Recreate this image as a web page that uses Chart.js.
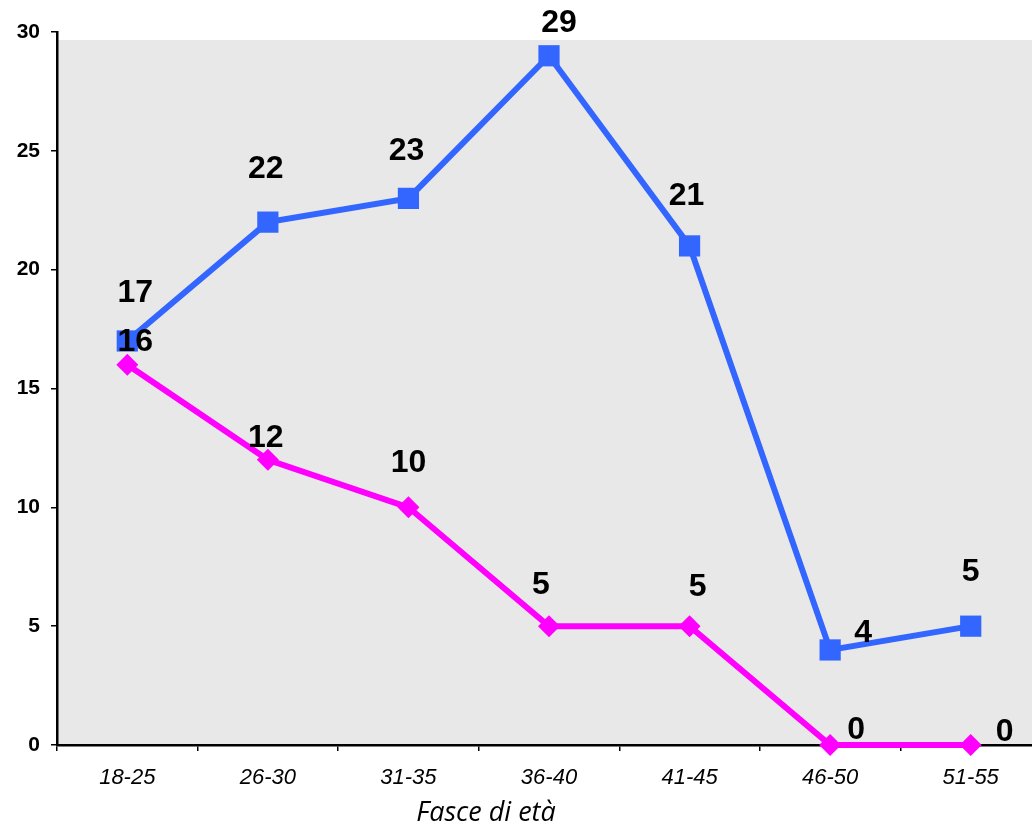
<!DOCTYPE html>
<html>
<head>
<meta charset="utf-8">
<script src="https://cdn.jsdelivr.net/npm/chart.js@4/dist/chart.umd.min.js"></script>
<style>
  html, body { margin: 0; padding: 0; background: #fff; overflow: hidden; }
  #wrap { width: 1056px; height: 833px; }
</style>
</head>
<body>
<div id="wrap"><canvas id="ageChart" width="1056" height="833"></canvas></div>
<script>
// categories and series
const ageGroups = ['18-25', '26-30', '31-35', '36-40', '41-45', '46-50', '51-55'];
const seriesBlue = [17, 22, 23, 29, 21, 4, 5];
const seriesPink = [16, 12, 10, 5, 5, 0, 0];
const yTicks = [0, 5, 10, 15, 20, 25, 30];
const axisTitle = 'Fasce di età';

// label nudges (dx, dy) so numbers sit where the original put them
const blueLabelShift = [[8, -48], [-2, -53], [-2, -47], [10, -33], [-3, -50], [33, -17], [0, -54]];
const pinkLabelShift = [[8, -23], [-2, -22], [0, -44], [-8, -41], [8, -39], [26, -15], [34, -13]];

const plotBackground = {
    id: 'plotBackground',
    beforeDraw(chart) {
        const { ctx, chartArea: a } = chart;
        ctx.save();
        ctx.fillStyle = '#e8e8e8';
        ctx.fillRect(a.left, a.top + 8, a.right - a.left, a.bottom - a.top - 8);
        ctx.restore();
    }
};

const valueLabels = {
    id: 'valueLabels',
    afterDatasetsDraw(chart) {
        const ctx = chart.ctx;
        ctx.save();
        ctx.font = 'bold 32px "Liberation Sans", Arial, sans-serif';
        ctx.fillStyle = '#000';
        ctx.textAlign = 'center';
        ctx.textBaseline = 'middle';
        chart.data.datasets.forEach((ds, i) => {
            const meta = chart.getDatasetMeta(i);
            meta.data.forEach((pt, j) => {
                const s = ds.labelShift[j];
                ctx.fillText(String(ds.data[j]), pt.x + s[0], pt.y + s[1]);
            });
        });
        ctx.restore();
    }
};

const xTitle = {
    id: 'xTitle',
    afterDraw(chart) {
        const ctx = chart.ctx;
        ctx.save();
        ctx.font = 'italic 27px "Open Sans", sans-serif';
        ctx.fillStyle = '#000';
        ctx.textAlign = 'center';
        ctx.textBaseline = 'middle';
        ctx.fillText(axisTitle, 486, 813);
        ctx.restore();
    }
};

const ctx = document.getElementById('ageChart').getContext('2d');
new Chart(ctx, {
    type: 'line',
    data: {
        labels: ageGroups,
        datasets: [{
            label: 'A',
            data: seriesBlue,
            labelShift: blueLabelShift,
            borderColor: '#3366ff',
            backgroundColor: '#3366ff',
            borderWidth: 6,
            pointStyle: 'rect',
            pointRadius: 15,
            pointBorderWidth: 0,
            tension: 0,
            clip: false,
            order: 2
        }, {
            label: 'B',
            data: seriesPink,
            labelShift: pinkLabelShift,
            borderColor: '#ff00ff',
            backgroundColor: '#ff00ff',
            borderWidth: 6,
            pointStyle: 'rectRot',
            pointRadius: 11,
            pointBorderWidth: 0,
            tension: 0,
            clip: false,
            order: 1
        }]
    },
    options: {
        responsive: false,
        animation: false,
        events: [],
        layout: { padding: { top: 32, right: 0, left: 0, bottom: 0 } },
        plugins: {
            legend: { display: false },
            tooltip: { enabled: false }
        },
        scales: {
            x: {
                offset: true,
                grid: {
                    offset: true,
                    drawOnChartArea: false,
                    color: '#000',
                    lineWidth: 1.5,
                    tickLength: 6
                },
                border: { color: '#000', width: 2.5 },
                ticks: {
                    color: '#000',
                    padding: 14,
                    font: { family: '"Liberation Sans", Arial, sans-serif', size: 22, style: 'italic' }
                },
                afterFit(scale) {
                    scale.height = 88;
                    scale.paddingLeft = 0;
                    scale.paddingRight = 0;
                }
            },
            y: {
                min: 0,
                max: 30,
                afterBuildTicks(scale) { scale.ticks = yTicks.map(v => ({ value: v })); },
                grid: {
                    drawOnChartArea: false,
                    color: '#000',
                    lineWidth: 1.5,
                    tickLength: 6
                },
                border: { color: '#000', width: 2.5 },
                ticks: {
                    color: '#000',
                    padding: 11,
                    font: { family: '"Liberation Sans", Arial, sans-serif', size: 21, weight: 'bold' }
                },
                afterFit(scale) { scale.width = 57; }
            }
        }
    },
    plugins: [plotBackground, valueLabels, xTitle]
});
</script>
</body>
</html>
